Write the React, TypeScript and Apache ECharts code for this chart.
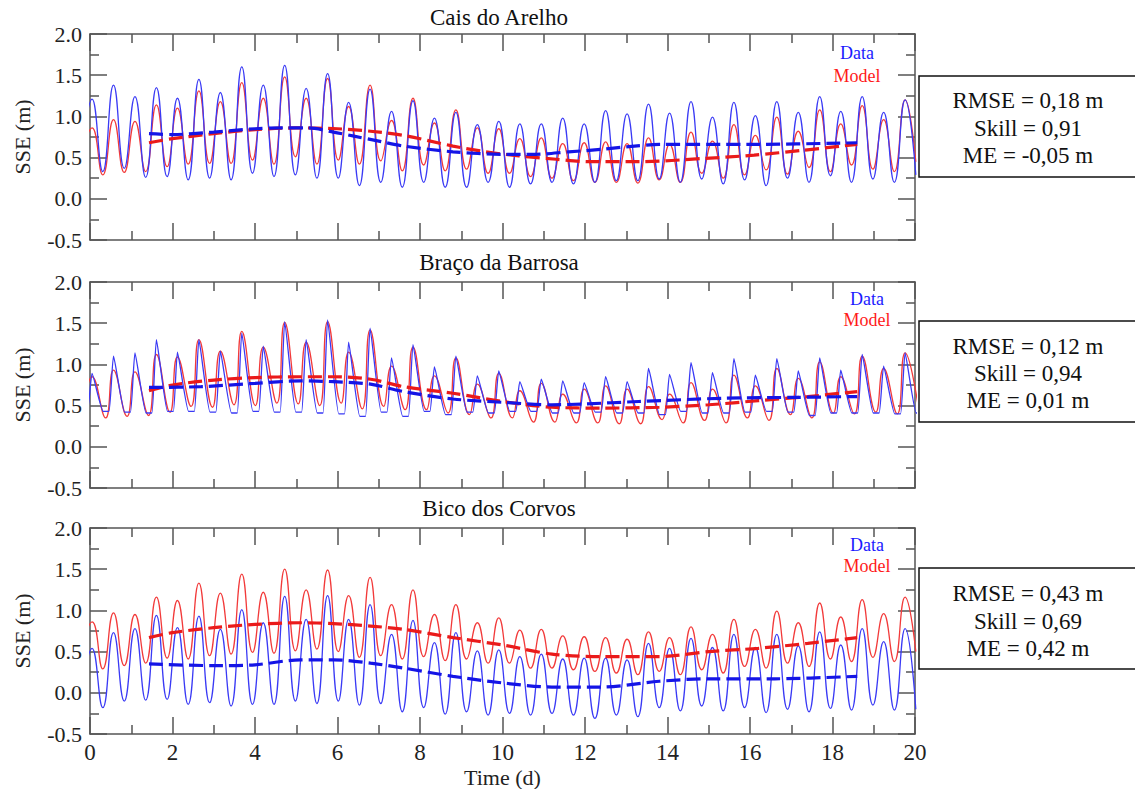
import React, { useEffect, useRef } from "react";
import * as echarts from "echarts";

// High-water and low-water times (days)
const hwTimes = [0.05, 0.57, 1.09, 1.61, 2.12, 2.64, 3.16, 3.68, 4.2, 4.72, 5.24, 5.76, 6.27, 6.79, 7.31, 7.83, 8.35, 8.87, 9.39, 9.91, 10.42, 10.94, 11.46, 11.98, 12.5, 13.02, 13.54, 14.05, 14.57, 15.09, 15.61, 16.13, 16.65, 17.17, 17.69, 18.2, 18.72, 19.24, 19.76];
const lwTimes = [-0.21, 0.31, 0.83, 1.35, 1.87, 2.38, 2.9, 3.42, 3.94, 4.46, 4.98, 5.5, 6.02, 6.53, 7.05, 7.57, 8.09, 8.61, 9.13, 9.65, 10.17, 10.68, 11.2, 11.72, 12.24, 12.76, 13.28, 13.8, 14.31, 14.83, 15.35, 15.87, 16.39, 16.91, 17.43, 17.95, 18.46, 18.98, 19.5, 20.02];

// Cais do Arelho
const caisDataHigh = [1.21, 1.38, 1.24, 1.35, 1.22, 1.45, 1.29, 1.6, 1.38, 1.62, 1.34, 1.52, 1.17, 1.33, 1.06, 1.19, 0.98, 1.05, 0.9, 0.94, 0.91, 0.91, 0.98, 0.91, 1.07, 1.03, 1.15, 1.04, 1.18, 0.99, 1.17, 1.01, 1.18, 1.05, 1.24, 1.06, 1.24, 1.05, 1.2];
const caisDataLow = [0.4, 0.33, 0.37, 0.26, 0.27, 0.23, 0.25, 0.23, 0.31, 0.27, 0.29, 0.25, 0.25, 0.16, 0.2, 0.14, 0.2, 0.14, 0.14, 0.2, 0.14, 0.18, 0.2, 0.18, 0.2, 0.22, 0.22, 0.24, 0.2, 0.24, 0.18, 0.23, 0.16, 0.25, 0.2, 0.28, 0.2, 0.24, 0.2, 0.29];
const caisModelHigh = [0.86, 0.96, 0.94, 1.14, 1.1, 1.31, 1.18, 1.41, 1.22, 1.48, 1.22, 1.46, 1.12, 1.38, 0.95, 1.22, 0.92, 1.08, 0.86, 0.85, 0.73, 0.74, 0.67, 0.68, 0.69, 0.67, 0.74, 0.66, 0.81, 0.7, 0.9, 0.77, 0.99, 0.82, 1.08, 0.91, 1.13, 0.96, 1.2];
const caisModelLow = [0.5, 0.29, 0.32, 0.33, 0.39, 0.42, 0.43, 0.43, 0.47, 0.42, 0.51, 0.42, 0.47, 0.42, 0.46, 0.34, 0.41, 0.34, 0.36, 0.31, 0.31, 0.27, 0.25, 0.22, 0.2, 0.2, 0.19, 0.23, 0.2, 0.31, 0.25, 0.29, 0.35, 0.3, 0.38, 0.33, 0.41, 0.36, 0.33, 0.45];
const caisDataMean = [[1.43, 0.79], [2.0, 0.78], [3.0, 0.81], [4.0, 0.85], [4.7, 0.86], [5.3, 0.86], [5.9, 0.81], [6.4, 0.76], [7.0, 0.7], [7.6, 0.64], [8.8, 0.57], [10.0, 0.54], [10.8, 0.54], [11.6, 0.57], [12.4, 0.6], [13.2, 0.64], [13.8, 0.66], [16.0, 0.66], [18.6, 0.68]];
const caisModelMean = [[1.43, 0.68], [2.0, 0.73], [3.0, 0.79], [4.0, 0.84], [5.0, 0.86], [6.0, 0.85], [6.8, 0.82], [7.6, 0.77], [8.8, 0.64], [9.6, 0.57], [10.4, 0.52], [11.3, 0.48], [12.1, 0.45], [13.3, 0.45], [14.9, 0.49], [16.1, 0.53], [17.3, 0.59], [18.6, 0.66]];

// Braço da Barrosa
const bracoDataHigh = [0.89, 1.1, 1.14, 1.3, 1.15, 1.3, 1.16, 1.38, 1.22, 1.52, 1.3, 1.54, 1.27, 1.44, 1.08, 1.24, 0.97, 1.1, 0.86, 0.92, 0.79, 0.82, 0.8, 0.78, 0.85, 0.79, 0.95, 0.88, 1.02, 0.9, 1.07, 0.87, 1.07, 0.92, 1.08, 0.93, 1.12, 0.98, 1.14];
const bracoDataLow = [0.45, 0.43, 0.42, 0.41, 0.43, 0.43, 0.42, 0.41, 0.43, 0.42, 0.42, 0.41, 0.4, 0.37, 0.42, 0.37, 0.43, 0.39, 0.42, 0.41, 0.43, 0.43, 0.41, 0.41, 0.42, 0.41, 0.41, 0.39, 0.43, 0.41, 0.41, 0.42, 0.43, 0.42, 0.38, 0.41, 0.41, 0.41, 0.4, 0.41];
const bracoModelHigh = [0.85, 0.93, 0.91, 1.12, 1.09, 1.3, 1.16, 1.4, 1.21, 1.51, 1.27, 1.52, 1.15, 1.42, 0.98, 1.21, 0.86, 1.08, 0.76, 0.89, 0.68, 0.77, 0.64, 0.7, 0.74, 0.7, 0.73, 0.64, 0.78, 0.7, 0.87, 0.74, 0.95, 0.83, 1.03, 0.85, 1.1, 0.95, 1.14];
const bracoModelLow = [0.5, 0.35, 0.37, 0.38, 0.42, 0.49, 0.48, 0.51, 0.5, 0.53, 0.52, 0.5, 0.53, 0.46, 0.49, 0.45, 0.45, 0.41, 0.39, 0.35, 0.35, 0.3, 0.3, 0.29, 0.29, 0.28, 0.28, 0.33, 0.29, 0.32, 0.29, 0.35, 0.32, 0.39, 0.35, 0.41, 0.4, 0.42, 0.4, 0.45];
const bracoDataMean = [[1.43, 0.72], [2.7, 0.73], [4.0, 0.77], [5.1, 0.8], [5.9, 0.79], [6.8, 0.76], [7.6, 0.67], [8.8, 0.58], [10.0, 0.54], [11.2, 0.51], [12.0, 0.52], [13.3, 0.55], [15.4, 0.59], [17.1, 0.6], [18.6, 0.61]];
const bracoModelMean = [[1.43, 0.68], [2.0, 0.75], [3.0, 0.81], [4.0, 0.84], [5.1, 0.85], [5.9, 0.85], [6.8, 0.82], [7.6, 0.73], [8.8, 0.65], [10.0, 0.55], [11.2, 0.48], [12.4, 0.47], [13.8, 0.48], [15.0, 0.51], [16.2, 0.56], [17.4, 0.61], [18.6, 0.67]];

// Bico dos Corvos
const bicoDataHigh = [0.54, 0.73, 0.78, 0.94, 0.79, 0.93, 0.77, 1.01, 0.85, 1.17, 0.89, 1.18, 0.89, 1.07, 0.71, 0.88, 0.61, 0.73, 0.51, 0.52, 0.44, 0.47, 0.41, 0.42, 0.42, 0.4, 0.6, 0.54, 0.66, 0.55, 0.71, 0.55, 0.71, 0.57, 0.74, 0.58, 0.78, 0.62, 0.78];
const bicoDataLow = [-0.1, -0.18, -0.1, -0.09, -0.08, -0.14, -0.12, -0.16, -0.14, -0.14, -0.1, -0.13, -0.1, -0.15, -0.13, -0.23, -0.18, -0.26, -0.23, -0.27, -0.25, -0.27, -0.25, -0.27, -0.31, -0.27, -0.29, -0.18, -0.22, -0.16, -0.22, -0.18, -0.24, -0.2, -0.23, -0.19, -0.21, -0.15, -0.21, -0.2];
const bicoModelHigh = [0.86, 0.97, 0.95, 1.16, 1.12, 1.33, 1.21, 1.44, 1.22, 1.5, 1.25, 1.49, 1.18, 1.4, 1.07, 1.25, 0.95, 1.07, 0.85, 0.91, 0.76, 0.77, 0.69, 0.68, 0.67, 0.65, 0.74, 0.67, 0.8, 0.71, 0.89, 0.77, 0.99, 0.85, 1.09, 0.92, 1.13, 0.96, 1.16];
const bicoModelLow = [0.55, 0.29, 0.33, 0.36, 0.42, 0.41, 0.45, 0.47, 0.49, 0.48, 0.51, 0.53, 0.5, 0.43, 0.45, 0.41, 0.44, 0.39, 0.41, 0.36, 0.36, 0.3, 0.3, 0.28, 0.26, 0.24, 0.22, 0.26, 0.22, 0.28, 0.24, 0.32, 0.3, 0.36, 0.32, 0.41, 0.38, 0.43, 0.38, 0.5];
const bicoDataMean = [[1.43, 0.35], [3.0, 0.33], [4.0, 0.34], [5.1, 0.4], [5.9, 0.4], [6.8, 0.36], [7.6, 0.3], [8.8, 0.2], [10.0, 0.12], [11.2, 0.07], [12.4, 0.07], [13.8, 0.14], [15.0, 0.17], [16.6, 0.17], [18.6, 0.2]];
const bicoModelMean = [[1.43, 0.67], [2.0, 0.73], [3.0, 0.79], [4.0, 0.83], [5.1, 0.85], [5.9, 0.84], [6.8, 0.81], [7.6, 0.77], [8.8, 0.67], [10.0, 0.58], [11.2, 0.47], [12.4, 0.44], [13.8, 0.44], [15.0, 0.5], [16.2, 0.54], [17.4, 0.6], [18.6, 0.67]];

const titles = ["Cais do Arelho", "Braço da Barrosa", "Bico dos Corvos"];
const stats = [
  ["RMSE = 0,18 m", "Skill = 0,91", "ME = -0,05 m"],
  ["RMSE = 0,12 m", "Skill = 0,94", "ME = 0,01 m"],
  ["RMSE = 0,43 m", "Skill = 0,69", "ME = 0,42 m"],
];
const xTicks = { min: 0, max: 20, interval: 2 };
const yTicks = { min: -0.5, max: 2.0, interval: 0.5 };

const FONT = "Liberation Serif, Times New Roman, serif";
const AXIS_COLOR = "#555";
const BLUE = "#3a3af5";
const RED = "#f23a3a";
const BLUE_D = "#1414e6";
const RED_D = "#ea1a1a";

function wave(highs: number[], lows: number[], lowShift: number) {
  const pts: number[][] = [];
  for (let i = 0; i < lows.length; i++) {
    pts.push([lwTimes[i] + lowShift, lows[i]]);
    if (i < highs.length) pts.push([hwTimes[i], highs[i]]);
  }
  return pts;
}

function flatWave(highs: number[], lows: number[]) {
  const pts: number[][] = [];
  for (let i = 0; i < lows.length; i++) {
    pts.push([lwTimes[i] + 0.01, lows[i]]);
    pts.push([lwTimes[i] + 0.15, lows[i]]);
    if (i < highs.length) pts.push([hwTimes[i], highs[i]]);
  }
  return pts;
}

export default function App() {
  const ref = useRef<HTMLDivElement>(null);
  useEffect(() => {
    if (!ref.current) return;
    const chart = echarts.init(ref.current, undefined, { renderer: "svg" });
    const tops = [34, 282, 528];
    const grids = tops.map((t) => ({ left: 90, top: t, width: 825, height: 206 }));
    const xAxes: any[] = [];
    const yAxes: any[] = [];
    const tickStyle = { color: AXIS_COLOR, width: 1.5 };
    tops.forEach((_, g) => {
      const base = {
        type: "value",
        gridIndex: g,
        min: xTicks.min,
        max: xTicks.max,
        interval: xTicks.interval,
        splitLine: { show: false },
        axisLine: { show: true, onZero: false, lineStyle: { color: AXIS_COLOR, width: 1.5 } },
        axisTick: { show: true, inside: true, length: 17, lineStyle: tickStyle },
        minorTick: { show: true, splitNumber: 2, length: 9, lineStyle: tickStyle },
      };
      xAxes.push({
        ...base,
        position: "bottom",
        axisLabel: { show: g === 2, margin: 7, fontFamily: FONT, fontSize: 23, color: "#222" },
        name: g === 2 ? "Time (d)" : "",
        nameLocation: "middle",
        nameGap: 32,
        nameTextStyle: { fontFamily: FONT, fontSize: 22, color: "#222" },
      });
      xAxes.push({ ...base, position: "top", axisLabel: { show: false } });
      const ybase = {
        type: "value",
        gridIndex: g,
        min: yTicks.min,
        max: yTicks.max,
        interval: yTicks.interval,
        splitLine: { show: false },
        axisLine: { show: true, onZero: false, lineStyle: { color: AXIS_COLOR, width: 1.5 } },
        axisTick: { show: true, inside: true, length: 17, lineStyle: tickStyle },
        minorTick: { show: true, splitNumber: 2, length: 9, lineStyle: tickStyle },
      };
      yAxes.push({
        ...ybase,
        position: "left",
        axisLabel: {
          show: true,
          margin: 8,
          fontFamily: FONT,
          fontSize: 22,
          color: "#222",
          formatter: (v: number) => v.toFixed(1),
        },
        name: "SSE (m)",
        nameLocation: "middle",
        nameGap: 57,
        nameTextStyle: { fontFamily: FONT, fontSize: 22, color: "#222" },
      });
      yAxes.push({ ...ybase, position: "right", axisLabel: { show: false } });
    });

    const panels = [
      { dh: caisDataHigh, dl: caisDataLow, mh: caisModelHigh, ml: caisModelLow, dm: caisDataMean, mm: caisModelMean, flat: false },
      { dh: bracoDataHigh, dl: bracoDataLow, mh: bracoModelHigh, ml: bracoModelLow, dm: bracoDataMean, mm: bracoModelMean, flat: true },
      { dh: bicoDataHigh, dl: bicoDataLow, mh: bicoModelHigh, ml: bicoModelLow, dm: bicoDataMean, mm: bicoModelMean, flat: false },
    ];
    const series: any[] = [];
    panels.forEach((p, g) => {
      const common = { type: "line", xAxisIndex: 2 * g, yAxisIndex: 2 * g, showSymbol: false, symbol: "none", clip: true, silent: true };
      series.push({
        ...common,
        name: "Model",
        data: wave(p.mh, p.ml, p.flat ? 0.07 : 0),
        smooth: 0.5,
        lineStyle: { color: RED, width: 1.3 },
      });
      series.push({
        ...common,
        name: "Data",
        data: p.flat ? flatWave(p.dh, p.dl) : wave(p.dh, p.dl, 0),
        smooth: p.flat ? 0.15 : 0.5,
        lineStyle: { color: BLUE, width: 1.3 },
      });
      series.push({
        ...common,
        name: "Model mean",
        data: p.mm,
        smooth: 0.3,
        lineStyle: { color: RED_D, width: 3.2, type: [14, 6] },
      });
      series.push({
        ...common,
        name: "Data mean",
        data: p.dm,
        smooth: 0.3,
        lineStyle: { color: BLUE_D, width: 3.2, type: [14, 6] },
      });
    });

    const legendPos = [
      { x: 857, y1: 53, y2: 76 },
      { x: 867, y1: 299, y2: 320 },
      { x: 867, y1: 545, y2: 566 },
    ];
    const boxPos = [
      { y: 76, lines: [100, 128, 155] },
      { y: 321, lines: [346, 373, 400] },
      { y: 568, lines: [593, 621, 648] },
    ];
    const titleY = [17, 262, 508];
    const graphic: any[] = [];
    titles.forEach((t, g) => {
      graphic.push({
        type: "text",
        style: { text: t, x: 499, y: titleY[g], font: `23px ${FONT}`, fill: "#111", textAlign: "center", textVerticalAlign: "middle" },
      });
      graphic.push({
        type: "text",
        style: { text: "Data", x: legendPos[g].x, y: legendPos[g].y1, font: `18px ${FONT}`, fill: "#1a1aff", textAlign: "center", textVerticalAlign: "middle" },
      });
      graphic.push({
        type: "text",
        style: { text: "Model", x: legendPos[g].x, y: legendPos[g].y2, font: `18px ${FONT}`, fill: "#ff1a1a", textAlign: "center", textVerticalAlign: "middle" },
      });
      graphic.push({
        type: "rect",
        shape: { x: 919, y: boxPos[g].y, width: 230, height: 101 },
        style: { fill: "#fff", stroke: "#111", lineWidth: 1.5 },
      });
      stats[g].forEach((s, i) => {
        graphic.push({
          type: "text",
          style: { text: s, x: 1028, y: boxPos[g].lines[i], font: `23px ${FONT}`, fill: "#111", textAlign: "center", textVerticalAlign: "middle" },
        });
      });
    });

    chart.setOption({
      animation: false,
      backgroundColor: "#ffffff",
      grid: grids,
      xAxis: xAxes,
      yAxis: yAxes,
      series,
      graphic,
    });
    return () => chart.dispose();
  }, []);
  return (
    <div
      ref={ref}
      style={{ position: "absolute", left: 0, top: 0, width: 1135, height: 789, background: "#fff" }}
    />
  );
}
